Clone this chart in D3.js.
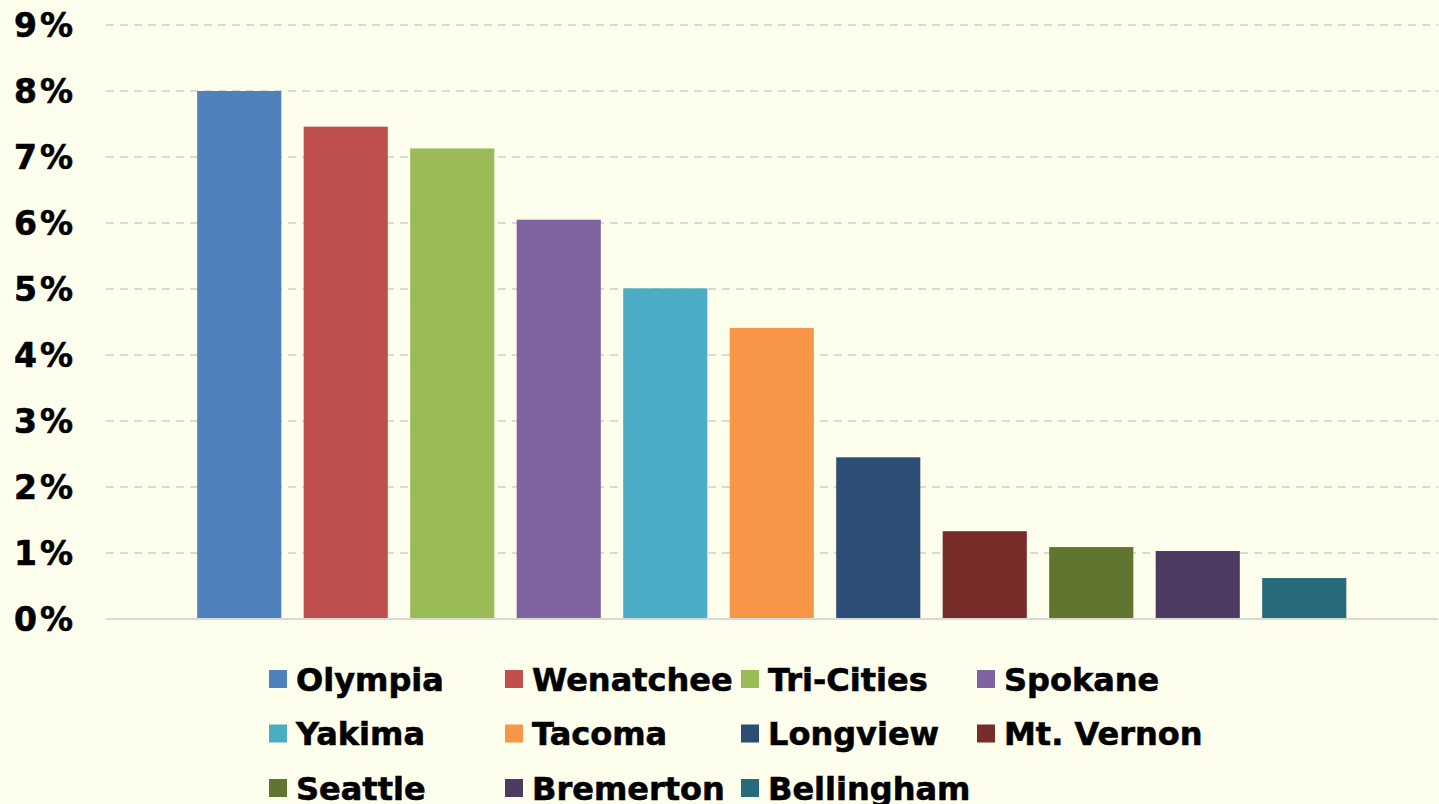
<!DOCTYPE html>
<html>
<head>
<meta charset="utf-8">
<script src="https://cdn.jsdelivr.net/npm/d3@7"></script>
<style>
  body { margin: 0; background: #FEFEEC; }
  svg { display: block; }
  text { font-family: "DejaVu Sans", Verdana, sans-serif; font-weight: bold; fill: #000;
         stroke: #000; stroke-width: 0.6px; }
</style>
</head>
<body>
<div id="chart"></div>
<script>
// city names, one series each
var cities = ["Olympia", "Wenatchee", "Tri-Cities", "Spokane", "Yakima", "Tacoma",
              "Longview", "Mt. Vernon", "Seattle", "Bremerton", "Bellingham"];
// values in percent
var values = [8.0, 7.46, 7.13, 6.05, 5.01, 4.41, 2.45, 1.33, 1.09, 1.03, 0.62];
var colors = ["#4F81BD", "#C0504D", "#9BBB59", "#8064A2", "#4BACC6", "#F79646",
              "#2C4D75", "#772C2A", "#5F7530", "#4D3B62", "#276A7C"];
var yTicks = [0, 1, 2, 3, 4, 5, 6, 7, 8, 9];

var width = 1439, height = 804;

var svg = d3.select("#chart").append("svg")
  .attr("width", width).attr("height", height);

var x = d3.scaleBand().domain(cities).range([186, 1357.5])
  .paddingInner(0.21).paddingOuter(0.105);
var y = d3.scaleLinear().domain([0, 9]).range([619, 25]);

// gridlines
svg.append("g").selectAll("line")
  .data(yTicks.filter(function(d){ return d > 0; }))
  .enter().append("line")
  .attr("x1", 106).attr("x2", 1438)
  .attr("y1", function(d){ return y(d); }).attr("y2", function(d){ return y(d); })
  .attr("stroke", "#D9D9D9").attr("stroke-width", 2)
  .attr("stroke-dasharray", "8,6");

// y axis labels
var yAxis = d3.axisLeft(y).tickValues(yTicks)
  .tickFormat(function(d){ return d + "%"; }).tickSize(0).tickPadding(0);
var ya = svg.append("g").attr("transform", "translate(76,0)").call(yAxis);
ya.select(".domain").remove();
ya.selectAll("text").style("font-size", "33px")
  .style("font-family", "'DejaVu Sans', Verdana, sans-serif").style("font-weight", "bold")
  .style("letter-spacing", "3px")
  .attr("dy", "0.36em");

// bars
svg.append("g").selectAll("rect")
  .data(cities).enter().append("rect")
  .attr("x", function(d){ return x(d); })
  .attr("width", x.bandwidth())
  .attr("y", function(d, i){ return y(values[i]); })
  .attr("height", function(d, i){ return y(0) - y(values[i]); })
  .attr("fill", function(d, i){ return colors[i]; });

// baseline
svg.append("line")
  .attr("x1", 106).attr("x2", 1438).attr("y1", y(0)).attr("y2", y(0))
  .attr("stroke", "#D9D9D9").attr("stroke-width", 2);

// legend, 4 per row (last row runs off the bottom like the original)
var leg = svg.append("g").selectAll("g")
  .data(cities).enter().append("g")
  .attr("transform", function(d, i){
    return "translate(" + (269 + (i % 4) * 236) + "," + (679 + Math.floor(i / 4) * 54.5) + ")";
  });
leg.append("rect").attr("x", 0).attr("y", -9).attr("width", 18).attr("height", 18)
  .attr("fill", function(d, i){ return colors[i]; });
leg.append("text").attr("x", 27).attr("dy", "0.36em")
  .style("font-size", "32px")
  .text(function(d){ return d; });
</script>
</body>
</html>
